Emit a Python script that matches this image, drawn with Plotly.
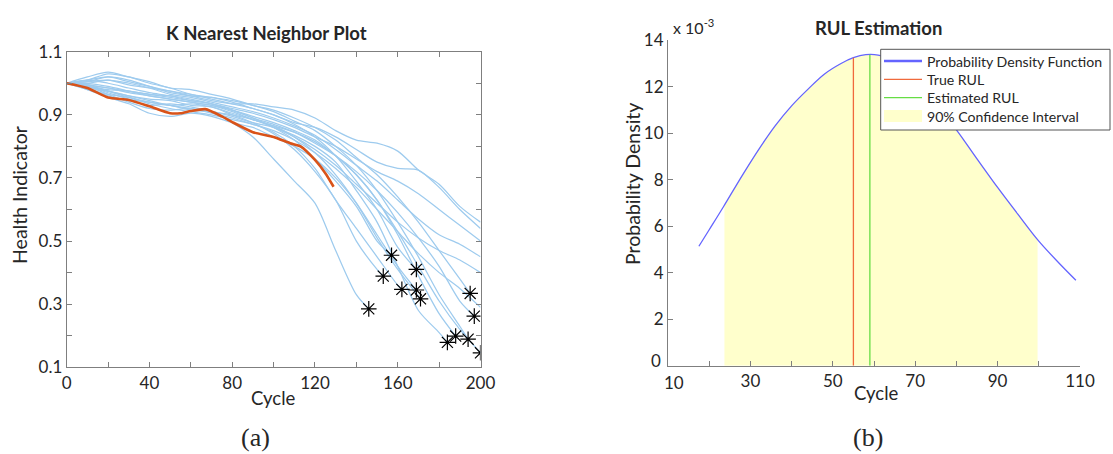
import numpy as np
import plotly.graph_objects as go

W, H = 1113, 454

# ---------------- (a) K nearest neighbour plot data ----------------
hi_01 = [1.00, 0.985, 0.96, 0.945, 0.93, 0.935, 0.925, 0.91, 0.875, 0.83, 0.76, 0.69, 0.62, 0.47, 0.33, 0.285]
hi_02 = [1.00, 0.99, 0.975, 0.96, 0.95, 0.945, 0.93, 0.925, 0.90, 0.875, 0.84, 0.79, 0.72, 0.63, 0.50, 0.41, 0.389]
hi_03 = [1.00, 1.01, 1.00, 0.985, 0.97, 0.96, 0.945, 0.935, 0.915, 0.89, 0.86, 0.82, 0.76, 0.69, 0.61, 0.50, 0.455]
hi_04 = [1.00, 0.99, 0.965, 0.94, 0.92, 0.915, 0.92, 0.905, 0.89, 0.87, 0.845, 0.80, 0.73, 0.63, 0.54, 0.45, 0.36, 0.347]
hi_05 = [1.00, 1.005, 1.02, 1.01, 0.99, 0.97, 0.96, 0.955, 0.94, 0.92, 0.90, 0.87, 0.83, 0.77, 0.69, 0.60, 0.48, 0.41]
hi_06 = [1.00, 0.98, 0.955, 0.935, 0.905, 0.895, 0.905, 0.895, 0.875, 0.86, 0.83, 0.80, 0.76, 0.70, 0.62, 0.52, 0.42, 0.345]
hi_07 = [1.00, 0.995, 0.985, 0.97, 0.96, 0.95, 0.94, 0.93, 0.91, 0.885, 0.865, 0.83, 0.78, 0.71, 0.62, 0.51, 0.41, 0.317]
hi_08 = [1.00, 0.99, 0.97, 0.95, 0.94, 0.93, 0.915, 0.91, 0.895, 0.875, 0.86, 0.835, 0.80, 0.75, 0.66, 0.56, 0.42, 0.28, 0.21, 0.179]
hi_09 = [1.00, 1.00, 0.99, 0.975, 0.96, 0.95, 0.94, 0.93, 0.915, 0.895, 0.875, 0.85, 0.82, 0.77, 0.71, 0.63, 0.52, 0.39, 0.27, 0.199]
hi_10 = [1.00, 1.01, 1.03, 1.02, 1.00, 0.985, 0.965, 0.955, 0.945, 0.93, 0.91, 0.88, 0.85, 0.80, 0.74, 0.66, 0.56, 0.45, 0.33, 0.23, 0.189]
hi_11 = [1.00, 1.02, 1.035, 1.02, 1.005, 0.985, 0.98, 0.965, 0.95, 0.93, 0.915, 0.89, 0.86, 0.82, 0.765, 0.71, 0.64, 0.56, 0.47, 0.38, 0.334]
hi_12 = [1.00, 0.995, 0.985, 0.975, 0.965, 0.96, 0.95, 0.935, 0.915, 0.89, 0.87, 0.845, 0.81, 0.77, 0.72, 0.66, 0.59, 0.51, 0.42, 0.31, 0.262]
hi_13 = [1.00, 0.985, 0.975, 0.96, 0.945, 0.93, 0.92, 0.91, 0.90, 0.885, 0.865, 0.845, 0.815, 0.77, 0.71, 0.63, 0.53, 0.42, 0.31, 0.22, 0.146]
hi_14 = [1.00, 1.01, 1.02, 1.005, 0.99, 0.975, 0.96, 0.945, 0.935, 0.935, 0.925, 0.915, 0.89, 0.85, 0.82, 0.81, 0.785, 0.725, 0.68, 0.61, 0.56]
hi_15 = [1.00, 1.005, 1.01, 0.995, 0.985, 0.975, 0.965, 0.95, 0.935, 0.92, 0.90, 0.875, 0.86, 0.83, 0.79, 0.75, 0.73, 0.725, 0.67, 0.60, 0.54]
hi_16 = [1.00, 0.99, 0.98, 0.975, 0.965, 0.955, 0.945, 0.935, 0.92, 0.905, 0.885, 0.86, 0.83, 0.80, 0.76, 0.72, 0.69, 0.65, 0.60, 0.55, 0.50]
hi_17 = [1.00, 1.00, 1.01, 1.00, 0.985, 0.965, 0.955, 0.94, 0.925, 0.91, 0.89, 0.865, 0.835, 0.79, 0.74, 0.69, 0.63, 0.57, 0.52, 0.49, 0.45]
hi_18 = [1.00, 0.98, 0.965, 0.955, 0.94, 0.93, 0.935, 0.925, 0.905, 0.885, 0.86, 0.83, 0.79, 0.74, 0.68, 0.62, 0.56, 0.51, 0.47, 0.44, 0.40]
hi_19 = [1.00, 0.995, 0.975, 0.955, 0.935, 0.92, 0.91, 0.90, 0.885, 0.87, 0.85, 0.82, 0.78, 0.73, 0.67, 0.60, 0.53, 0.46, 0.40, 0.35, 0.29]
neighbor_curves = [hi_01, hi_02, hi_03, hi_04, hi_05, hi_06, hi_07, hi_08, hi_09, hi_10,
                   hi_11, hi_12, hi_13, hi_14, hi_15, hi_16, hi_17, hi_18, hi_19]
end_cycles = [146, 153, 157, 162, 169, 169, 171, 184, 188, 194, 195, 197, 200,
              200, 200, 200, 200, 200, 200]
failed = [True] * 13 + [False] * 6
sample_step = 10

test_cycles = [0, 10, 20, 30, 40, 50, 55, 60, 67, 75, 80, 90, 100, 108, 113, 120, 125, 129]
test_hi = [1.0, 0.985, 0.955, 0.947, 0.927, 0.905, 0.905, 0.912, 0.918, 0.895, 0.877,
           0.845, 0.83, 0.81, 0.80, 0.757, 0.715, 0.672]

# ---------------- (b) RUL estimation data ----------------
pdf_cycles = [17.5, 20, 23.5, 28, 32, 36, 40, 44, 48, 52, 55, 58, 61, 65, 70, 75, 80,
              85, 90, 95, 100, 105, 109]
pdf_density = [0.00514, 0.00585, 0.00685, 0.00818, 0.0093, 0.01032, 0.01118, 0.0119,
               0.01255, 0.0130, 0.01325, 0.01338, 0.01336, 0.0131, 0.0123, 0.01125,
               0.01015, 0.0089, 0.00767, 0.0065, 0.00536, 0.0044, 0.00368]
true_rul = 55
estimated_rul = 59
ci_low, ci_high = 23.7, 99.7

x2_ticks = [10, 30, 50, 70, 90, 110]
y2_ticks = [0, 2, 4, 6, 8, 10, 12, 14]  # in units of 1e-3

legend_labels = ["Probability Density Function", "True RUL", "Estimated RUL", "90% Confidence Interval"]

FONT = "Lato"
AX = "#7f7f7f"
TXT = "#262626"
C_PDF, C_TRUE, C_EST, C_CI = "#6464ff", "#f06a3c", "#66dd44", "#ffffcc"

fig = go.Figure()

for vals, end_c in zip(neighbor_curves, end_cycles):
    xs = list(range(0, sample_step * (len(vals) - 1), sample_step)) + [end_c]
    fig.add_trace(go.Scatter(x=xs, y=vals, mode="lines", line=dict(color="#9ecbee", width=1.25, shape="spline", smoothing=0.8),
                             showlegend=False, hoverinfo="skip", xaxis="x", yaxis="y"))
fig.add_trace(go.Scatter(x=test_cycles, y=test_hi, mode="lines",
                         line=dict(color="#d95319", width=2.6, shape="spline", smoothing=0.6),
                         showlegend=False, xaxis="x", yaxis="y"))
fx = [c for c, f in zip(end_cycles, failed) if f]
fy = [v[-1] for v, f in zip(neighbor_curves, failed) if f]
fig.add_trace(go.Scatter(x=fx, y=fy, mode="markers",
                         marker=dict(symbol="asterisk-open", size=13, color="black", line=dict(color="black", width=1.2)),
                         showlegend=False, xaxis="x", yaxis="y"))

inside = [(c, d) for c, d in zip(pdf_cycles, pdf_density) if ci_low < c < ci_high]
fill_x = [ci_low] + [c for c, _ in inside] + [ci_high]
fill_y = [float(np.interp(ci_low, pdf_cycles, pdf_density))] + [d for _, d in inside] + \
         [float(np.interp(ci_high, pdf_cycles, pdf_density))]
fig.add_trace(go.Scatter(x=fill_x, y=fill_y, mode="none", fill="tozeroy", fillcolor=C_CI,
                         line=dict(shape="spline", width=0), name=legend_labels[3], showlegend=False,
                         xaxis="x2", yaxis="y2"))
fig.add_trace(go.Scatter(x=pdf_cycles, y=pdf_density, mode="lines", line=dict(color=C_PDF, width=1.3, shape="spline"),
                         name=legend_labels[0], showlegend=False, xaxis="x2", yaxis="y2"))
h_true = float(np.interp(true_rul, pdf_cycles, pdf_density))
h_est = float(np.interp(estimated_rul, pdf_cycles, pdf_density))
fig.add_trace(go.Scatter(x=[true_rul, true_rul], y=[0, h_true], mode="lines", line=dict(color=C_TRUE, width=1.3),
                         name=legend_labels[1], showlegend=False, xaxis="x2", yaxis="y2"))
fig.add_trace(go.Scatter(x=[estimated_rul, estimated_rul], y=[0, h_est], mode="lines", line=dict(color=C_EST, width=1.3),
                         name=legend_labels[2], showlegend=False, xaxis="x2", yaxis="y2"))


def px(x):
    return x / W


def py(y):
    return 1 - y / H


tickfont = dict(family=FONT, size=17, color=TXT)
common = dict(showline=True, linecolor=AX, linewidth=1, ticks="inside", ticklen=5, tickcolor=AX,
              showgrid=False, zeroline=False, tickfont=tickfont, automargin=False)

# the corner labels "10" (x) and "0" (y) of panel (b) are nudged apart, as in the original
x2_text = ["" if t == x2_ticks[0] else str(t) for t in x2_ticks]
y2_text = ["" if t == y2_ticks[0] else str(t) for t in y2_ticks]

fig.update_layout(
    width=W, height=H, margin=dict(l=0, r=0, t=0, b=0, pad=0, autoexpand=False),
    paper_bgcolor="white", plot_bgcolor="white",
    font=dict(family=FONT, color=TXT), showlegend=False,
    xaxis=dict(domain=[px(66.7), px(480.5)], range=[0, 200], tick0=0, dtick=40, mirror="ticks",
               minor=dict(dtick=20, tick0=0, ticks="inside", ticklen=5, tickcolor=AX), anchor="y", **common),
    yaxis=dict(domain=[py(367.3), py(51.7)], range=[0.1, 1.1], tick0=0.1, dtick=0.2, mirror="ticks",
               tickformat=".1f",
               minor=dict(dtick=0.1, tick0=0.1, ticks="inside", ticklen=5, tickcolor=AX), anchor="x", **common),
    xaxis2=dict(domain=[px(668), px(1080)], range=[10, 110], tickvals=x2_ticks, ticktext=x2_text,
                minor=dict(dtick=10, tick0=10, ticks="inside", ticklen=5, tickcolor=AX), anchor="y2", **common),
    yaxis2=dict(domain=[py(365.7), py(40.3)], range=[0, 0.014], tickvals=[t * 1e-3 for t in y2_ticks],
                ticktext=y2_text, anchor="x2", **common),
)
fig.add_annotation(text=str(x2_ticks[0]), x=px(674), y=py(382), xref="paper", yref="paper", showarrow=False,
                   xanchor="center", yanchor="middle", font=tickfont)
fig.add_annotation(text=str(y2_ticks[0]), x=px(663), y=py(360), xref="paper", yref="paper", showarrow=False,
                   xanchor="right", yanchor="middle", font=tickfont)

# ---- legend box (drawn as shapes + text) ----
fig.add_shape(type="rect", xref="paper", yref="paper", x0=px(880.7), x1=px(1110), y0=py(130), y1=py(49.3),
              fillcolor="white", line=dict(color="#555555", width=1), layer="above")
row_y = [61, 79.3, 97.7, 116]
sample_x0, sample_x1, text_x = 884, 922, 925
fig.add_shape(type="line", xref="paper", yref="paper", x0=px(sample_x0), x1=px(sample_x1), y0=py(row_y[0]), y1=py(row_y[0]),
              line=dict(color=C_PDF, width=2.4), layer="above")
fig.add_shape(type="line", xref="paper", yref="paper", x0=px(sample_x0), x1=px(sample_x1), y0=py(row_y[1]), y1=py(row_y[1]),
              line=dict(color=C_TRUE, width=1.2), layer="above")
fig.add_shape(type="line", xref="paper", yref="paper", x0=px(sample_x0), x1=px(sample_x1), y0=py(row_y[2]), y1=py(row_y[2]),
              line=dict(color=C_EST, width=1.2), layer="above")
fig.add_shape(type="rect", xref="paper", yref="paper", x0=px(sample_x0), x1=px(sample_x1), y0=py(row_y[3] + 6), y1=py(row_y[3] - 6),
              fillcolor=C_CI, line=dict(width=0), layer="above")
for lbl, yy in zip(legend_labels, row_y):
    fig.add_annotation(text=lbl, x=px(text_x), y=py(yy), xref="paper", yref="paper", showarrow=False,
                       xanchor="left", yanchor="middle", font=dict(family=FONT, size=14.1, color=TXT))

ann = [
    dict(text="<b>K Nearest Neighbor Plot</b>", x=px(266), y=py(33), size=18.5, family=FONT),
    dict(text="<b>RUL Estimation</b>", x=px(878), y=py(28), size=18.5, family=FONT),
    dict(text="Health Indicator", x=px(19), y=py(195), size=19.5, family=FONT, angle=-90),
    dict(text="Probability Density", x=px(632), y=py(184), size=19.5, family=FONT, angle=-90),
    dict(text="Cycle", x=px(273), y=py(398), size=18.5, family=FONT),
    dict(text="Cycle", x=px(876), y=py(393), size=18.5, family=FONT),
    dict(text="(a)", x=px(255), y=py(437), size=26, family="Liberation Serif"),
    dict(text="(b)", x=px(868), y=py(437), size=26, family="Liberation Serif"),
]
for a in ann:
    fig.add_annotation(text=a["text"], x=a["x"], y=a["y"], xref="paper", yref="paper", showarrow=False,
                       xanchor="center", yanchor="middle", textangle=a.get("angle", 0),
                       font=dict(family=a["family"], size=a["size"], color=TXT))
fig.add_annotation(text="x 10<sup>-3</sup>", x=px(671), y=py(26), xref="paper", yref="paper", showarrow=False,
                   xanchor="left", yanchor="middle", font=dict(family=FONT, size=16, color=TXT))

fig.write_html("out.html")
